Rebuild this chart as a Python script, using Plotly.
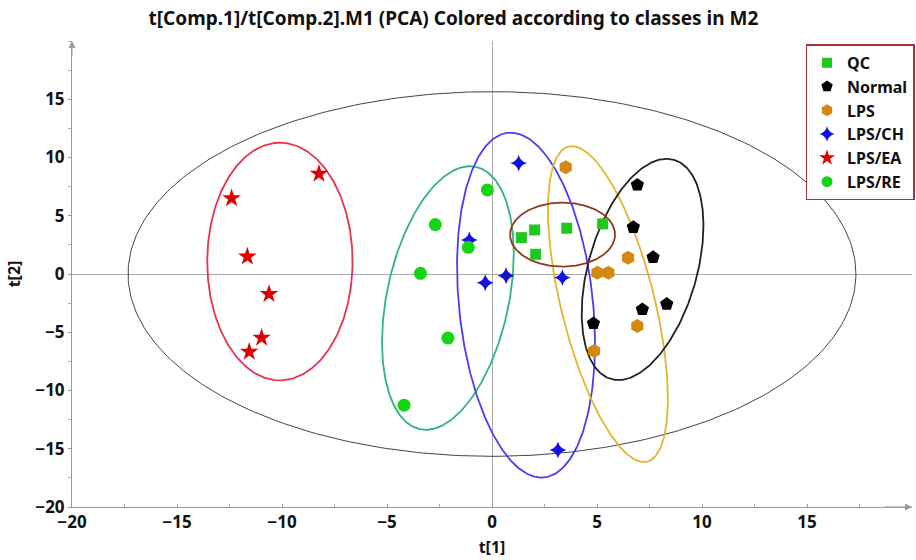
import numpy as np
import plotly.graph_objects as go

# ---- data (scores) ----
qc_x = [1.40, 2.03, 2.08, 3.56, 5.27]
qc_y = [3.12, 3.78, 1.69, 3.93, 4.30]

normal_x = [6.92, 6.73, 7.67, 8.32, 7.16, 4.83]
normal_y = [7.65, 4.01, 1.43, -2.58, -3.04, -4.24]

lps_x = [3.51, 6.48, 5.02, 5.54, 6.92, 4.86]
lps_y = [9.17, 1.40, 0.11, 0.11, -4.47, -6.62]

ch_x = [1.27, -1.08, 0.67, -0.32, 3.35, 3.14]
ch_y = [9.52, 2.92, -0.14, -0.75, -0.31, -15.10]

ea_x = [-8.24, -12.40, -11.65, -10.62, -10.97, -11.56]
ea_y = [8.60, 6.50, 1.49, -1.72, -5.47, -6.68]

re_x = [-0.22, -2.70, -1.13, -3.41, -2.10, -4.19]
re_y = [7.22, 4.24, 2.29, 0.06, -5.50, -11.26]

class_names = ["QC", "Normal", "LPS", "LPS/CH", "LPS/EA", "LPS/RE"]
tick_vals = [-20, -15, -10, -5, 0, 5, 10, 15]
x_tick_vals = [-20, -15, -10, -5, 0, 5, 10, 15]

# ellipse parameters: centre, first and second semi-axis vectors (data units)
ell_cx = [0.0, -10.1, -2.10, 1.62, 5.52, 7.17, 3.36]
ell_cy = [0.0, 1.07, -2.06, -2.67, -2.58, 0.39, 3.38]
ell_ux = [17.33, 0.0, 1.33, -0.862, -1.87, 1.50, 0.0]
ell_uy = [0.0, 10.2, 11.26, 14.79, 13.52, 9.41, 2.75]
ell_vx = [0.0, 3.46, 2.84, 3.17, 2.16, 2.48, 2.50]
ell_vy = [15.65, 0.0, -1.09, 0.60, 0.97, -1.29, 0.0]
ell_colors = ["#444444", "#e8334f", "#2fb57c", "#4b3cf2", "#e3b52c", "#222222", "#8b3b1f"]
ell_widths = [1, 1.8, 1.8, 1.8, 1.8, 1.8, 1.8]

FONT = "Noto Sans"
fig = go.Figure()

t = np.linspace(0, 2 * np.pi, 361)
for cx, cy, ux, uy, vx, vy, col, w in zip(ell_cx, ell_cy, ell_ux, ell_uy, ell_vx, ell_vy, ell_colors, ell_widths):
    fig.add_trace(go.Scatter(
        x=cx + ux * np.cos(t) + vx * np.sin(t),
        y=cy + uy * np.cos(t) + vy * np.sin(t),
        mode="lines", line=dict(color=col, width=w),
        showlegend=False, hoverinfo="skip"))

series = [
    (qc_x, qc_y, "square", "#1ec81e", 11, 10),
    (normal_x, normal_y, "pentagon", "#000000", 14, 12),
    (lps_x, lps_y, "hexagon", "#d3890f", 14, 12),
    (ch_x, ch_y, "star-diamond", "#1212e0", 12, 11),
    (ea_x, ea_y, "star", "#dd0000", 14, 12),
    (re_x, re_y, "circle", "#16d416", 13, 11),
]
for name, (xs, ys, sym, col, sz, lsz) in zip(class_names, series):
    fig.add_trace(go.Scatter(
        x=xs, y=ys, mode="markers", name=name, showlegend=False,
        marker=dict(symbol=sym, color=col, size=sz, line=dict(width=0))))
    # legend entry with the smaller legend symbol
    fig.add_trace(go.Scatter(
        x=[None], y=[None], mode="markers", name=name, showlegend=True,
        marker=dict(symbol=sym, color=col, size=lsz, line=dict(width=0))))

bold = dict(family=FONT, size=17, color="#111111", weight="bold")

axis_common = dict(
    showgrid=False, zeroline=True, zerolinecolor="#aaaaaa", zerolinewidth=1,
    showline=True, linecolor="#999999", linewidth=1,
    ticklen=3, tickcolor="#999999",
    tickfont=bold,
)

fig.update_layout(
    width=916, height=560,
    margin=dict(l=72, r=4, t=41, b=53, autoexpand=False),
    paper_bgcolor="white", plot_bgcolor="white",
    title=dict(text="t[Comp.1]/t[Comp.2].M1 (PCA) Colored according to classes in M2",
               x=0.495, xanchor="center", y=0.968, yanchor="middle",
               font=dict(family=FONT, size=19, color="#111111", weight="bold")),
    xaxis=dict(range=[-20, 20], tickvals=x_tick_vals, ticks="inside",
               minor=dict(ticks="inside", ticklen=3, tickcolor="#aaaaaa", dtick=2.5, showgrid=False),
               title=dict(text="t[1]", standoff=9,
                          font=dict(family=FONT, size=16, color="#111111", weight="bold")),
               **axis_common),
    yaxis=dict(range=[-20, 20], tickvals=tick_vals, ticks="outside",
               minor=dict(ticks="outside", ticklen=3, tickcolor="#aaaaaa", dtick=2.5, showgrid=False),
               title=dict(text="t[2]", standoff=10,
                          font=dict(family=FONT, size=16, color="#111111", weight="bold")),
               **axis_common),
    legend=dict(xref="paper", yref="paper", x=1.003, xanchor="right", y=0.993, yanchor="top",
                bgcolor="white", bordercolor="#a3303d", borderwidth=1.5,
                font=dict(family=FONT, size=16, color="#111111", weight="bold"),
                tracegroupgap=0, itemwidth=30),
    showlegend=True,
)

# arrow heads at ends of axes
fig.add_annotation(x=-20, y=20, ax=-20, ay=18.6, xref="x", yref="y", axref="x", ayref="y",
                   text="", showarrow=True, arrowhead=2, arrowsize=1.4, arrowwidth=1,
                   arrowcolor="#999999")
fig.add_annotation(x=20, y=-20, ax=18.6, ay=-20, xref="x", yref="y", axref="x", ayref="y",
                   text="", showarrow=True, arrowhead=2, arrowsize=1.4, arrowwidth=1,
                   arrowcolor="#999999")

fig.write_html("out.html")
